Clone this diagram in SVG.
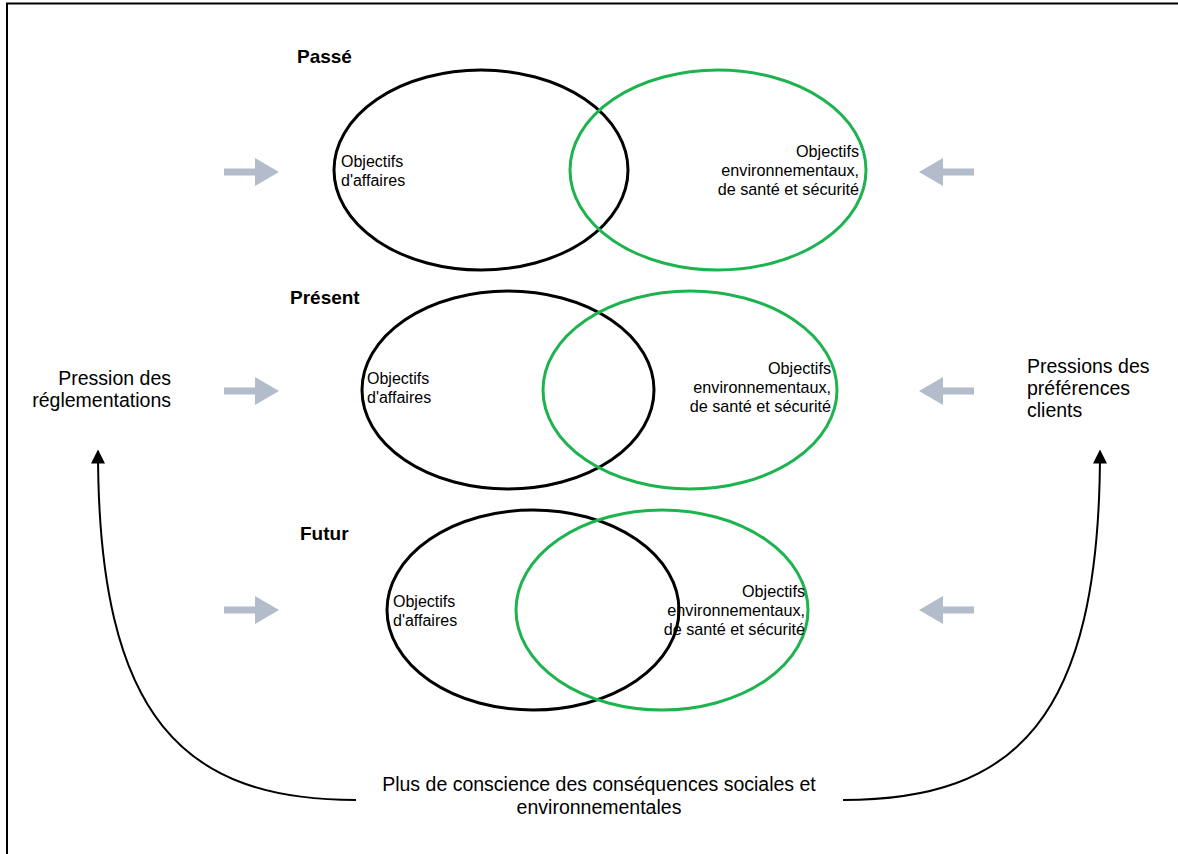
<svg xmlns="http://www.w3.org/2000/svg" width="1178" height="854" viewBox="0 0 1178 854">
  <style>
    text { font-family: "Liberation Sans", Arial, sans-serif; fill: #000; }
    .title { font-size: 19px; font-weight: bold; }
    .obj { font-size: 16px; }
    .env { font-size: 16.2px; text-anchor: end; }
    .side { font-size: 19.5px; }
    .foot { font-size: 19.5px; text-anchor: middle; }
    .biz { fill: none; stroke: #000; stroke-width: 3; }
    .ehs { fill: none; stroke: #1db34f; stroke-width: 3; }
    .push { fill: #b2bccb; }
    .curve { fill: none; stroke: #000; stroke-width: 2; marker-end: url(#tip); }
  </style>
  <defs>
    <marker id="tip" viewBox="0 0 10 10" refX="9" refY="5" markerWidth="15" markerHeight="14" markerUnits="userSpaceOnUse" orient="auto">
      <path d="M0,0 L10,5 L0,10 Z" fill="#000"/>
    </marker>
    <!-- grey pressure arrow pointing right, tip at origin -->
    <path id="pushR" d="M-55,-3.5 L-24,-3.5 L-24,-14 L0,0 L-24,14 L-24,3.5 L-55,3.5 Z"/>
  </defs>

  <rect width="1178" height="854" fill="#fff"/>
  <!-- frame -->
  <path d="M7,854 L7,3.5 L1178,3.5" fill="none" stroke="#000" stroke-width="2"/>

  <!-- Passé -->
  <g id="passe">
    <text class="title" x="297" y="63">Passé</text>
    <ellipse class="biz" cx="481" cy="170" rx="147" ry="100"/>
    <ellipse class="ehs" cx="718" cy="170" rx="148" ry="100"/>
    <text class="obj" x="341" y="167">Objectifs</text>
    <text class="obj" x="341" y="186">d'affaires</text>
    <text class="env" x="859" y="157">Objectifs</text>
    <text class="env" x="859" y="176">environnementaux,</text>
    <text class="env" x="859" y="195">de santé et sécurité</text>
  </g>

  <!-- Présent -->
  <g id="present">
    <text class="title" x="290" y="304">Présent</text>
    <ellipse class="biz" cx="508" cy="390" rx="146" ry="99"/>
    <ellipse class="ehs" cx="690" cy="390" rx="147" ry="99"/>
    <text class="obj" x="367" y="384">Objectifs</text>
    <text class="obj" x="367" y="403">d'affaires</text>
    <text class="env" x="831" y="374">Objectifs</text>
    <text class="env" x="831" y="393">environnementaux,</text>
    <text class="env" x="831" y="412">de santé et sécurité</text>
  </g>

  <!-- Futur -->
  <g id="futur">
    <text class="title" x="300" y="540">Futur</text>
    <ellipse class="biz" cx="533" cy="610" rx="146" ry="100"/>
    <ellipse class="ehs" cx="662" cy="610" rx="146" ry="100"/>
    <text class="obj" x="393" y="607">Objectifs</text>
    <text class="obj" x="393" y="626">d'affaires</text>
    <text class="env" x="805" y="597">Objectifs</text>
    <text class="env" x="805" y="616">environnementaux,</text>
    <text class="env" x="805" y="635">de santé et sécurité</text>
  </g>

  <!-- side labels -->
  <g id="reglementations">
    <text class="side" x="171" y="385" text-anchor="end">Pression des</text>
    <text class="side" x="171" y="407" text-anchor="end">réglementations</text>
  </g>
  <g id="clients">
    <text class="side" x="1027" y="373">Pressions des</text>
    <text class="side" x="1027" y="395">préférences</text>
    <text class="side" x="1027" y="417">clients</text>
  </g>
  <g id="conscience">
    <text class="foot" x="599" y="791">Plus de conscience des conséquences sociales et</text>
    <text class="foot" x="599" y="814">environnementales</text>
  </g>

  <!-- connectors -->
  <g id="connectors">
    <use href="#pushR" class="push" transform="translate(279,172)"/>
    <use href="#pushR" class="push" transform="translate(279,391)"/>
    <use href="#pushR" class="push" transform="translate(279,610)"/>
    <use href="#pushR" class="push" transform="translate(919,172) scale(-1,1)"/>
    <use href="#pushR" class="push" transform="translate(919,391) scale(-1,1)"/>
    <use href="#pushR" class="push" transform="translate(919,610) scale(-1,1)"/>
    <path class="curve" d="M356,800 C185,800 98,720 98,451"/>
    <path class="curve" d="M843,800 C1015,800 1100,720 1100,451"/>
  </g>
</svg>
